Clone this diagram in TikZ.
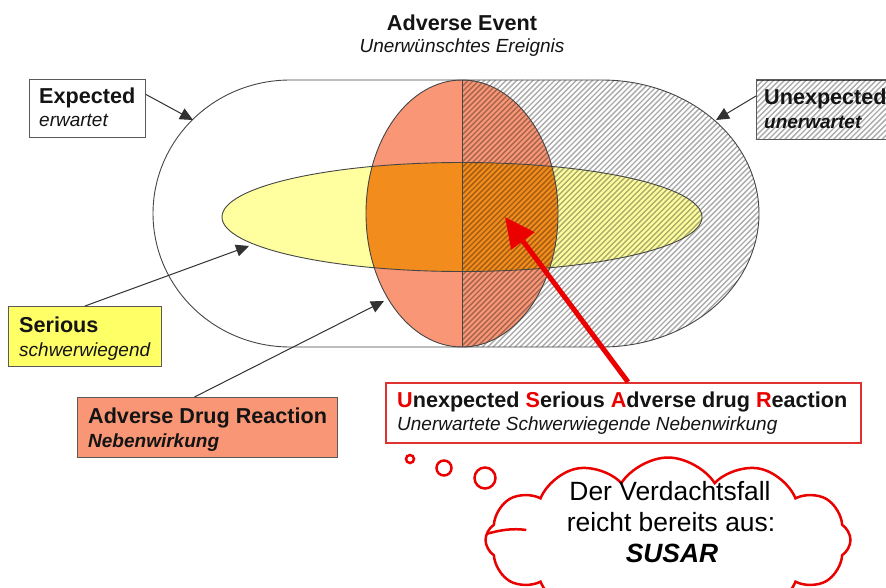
\documentclass[tikz,border=0pt]{standalone}
\usepackage{fontspec}
\setmainfont{Liberation Sans}
\usetikzlibrary{arrows.meta,shapes.symbols}

\definecolor{salmon}{RGB}{248,150,118}
\definecolor{orng}{RGB}{242,140,28}
\definecolor{ylw}{RGB}{255,255,160}
\definecolor{ylwbox}{RGB}{255,255,102}
\definecolor{outlc}{RGB}{70,70,70}
\definecolor{boxc}{RGB}{90,90,90}
\definecolor{connc}{RGB}{50,50,50}
\definecolor{cred}{RGB}{235,0,0}
\definecolor{susborder}{RGB}{225,50,50}
\definecolor{txt}{RGB}{20,20,20}

\newcommand\fBold{\fontsize{21.6}{24}\selectfont\bfseries}
\newcommand\fItal{\fontsize{19}{22}\selectfont\itshape}
\newcommand\fBI{\fontsize{19}{22}\selectfont\bfseries\itshape}
\newcommand\fCloud{\fontsize{26.4}{30}\selectfont}
\newcommand\outershape{(290,80) -- (602,80) -- plot[domain=-90:90,samples=91] ({602+157*cos(\x)},{213.5+133.5*sin(\x)}) -- (290,347) -- plot[domain=-90:90,samples=91] ({290-137*cos(\x)},{213.5-133.5*sin(\x)}) -- cycle}

\begin{document}
\begin{tikzpicture}[x=1pt,y=-1pt,
  outl/.style={draw=outlc, line width=0.9pt},
  hatchln/.style={draw=black, opacity=0.33, line width=1.4pt},
  box/.style={draw=boxc, line width=1pt, rectangle, inner sep=0pt, anchor=north west},
  lbl/.style={anchor=base west, inner sep=0pt, text=txt},
  conn/.style={draw=connc, line width=1pt, -{Triangle[length=13pt,width=12pt]}},
  bub/.style={circle, draw=cred, line width=2.5pt, inner sep=0pt, fill=white},
  inarc/.style={draw=cred, line width=2.5pt},
]
\clip (0,0) rectangle (886,588);
\fill[white] (0,0) rectangle (886,588);

% ---------- Venn shapes ----------
\fill[white] \outershape;
\fill[ylw] (462,217) ellipse [x radius=240, y radius=54.5];
\fill[salmon] (462,213.5) ellipse [x radius=96, y radius=133.5];
\begin{scope}
  \clip (462,217) ellipse [x radius=240, y radius=54.5];
  \fill[orng] (462,213.5) ellipse [x radius=96, y radius=133.5];
\end{scope}
\begin{scope}
  \clip \outershape;
  \clip (462,0) rectangle (900,400);
  \foreach \i in {100,105.4,...,800} \draw[hatchln] (\i,400) -- ++(330,-330);
\end{scope}
\draw[outl] \outershape;
\draw[outl] (462,217) ellipse [x radius=240, y radius=54.5];
\draw[outl] (462,213.5) ellipse [x radius=96, y radius=133.5];
\draw[outl] (462,80) -- (462,347);

% ---------- title ----------
\node[anchor=base, inner sep=0pt, text=txt, font=\fBold] (t1) at (462,31) {Adverse Event};
\node[anchor=base, inner sep=0pt, text=txt, font=\fItal] (t2) at (462,53) {Unerwünschtes Ereignis};

% ---------- Expected ----------
\node[box, fill=white, minimum width=116pt, minimum height=58pt] (expbox) at (29,79) {};
\node[lbl, font=\fBold] (exp1) at (39,104) {Expected};
\node[lbl, font=\fItal] (exp2) at (39,127) {erwartet};
\coordinate (expTip) at (193,120);
\draw[conn] ([yshift=14pt]expbox.east) -- (expTip);

% ---------- Unexpected ----------
\node[box, fill=white, minimum width=170pt, minimum height=59pt] (unexbox) at (756,80) {};
\begin{scope}
  \clip (unexbox.north west) rectangle (unexbox.south east);
  \foreach \i in {650,655.4,...,950} \draw[hatchln] (\i,150) -- ++(80,-80);
\end{scope}
\draw[draw=boxc, line width=1pt] (unexbox.north west) rectangle (unexbox.south east);
\node[lbl, font=\fBold] (unex1) at (764,105) {Unexpected};
\node[lbl, font=\fBI] (unex2) at (764,129) {unerwartet};
\coordinate (unexTip) at (716,120);
\draw[conn] ([yshift=14pt]unexbox.west) -- (unexTip);

% ---------- Serious ----------
\node[box, fill=ylwbox, minimum width=153pt, minimum height=60pt] (serbox) at (8,306) {};
\node[lbl, font=\fBold] (ser1) at (19,332) {Serious};
\node[lbl, font=\fItal] (ser2) at (19,356) {schwerwiegend};
\coordinate (serTip) at (249,246);
\draw[conn] (serbox.north) -- (serTip);

% ---------- Adverse Drug Reaction ----------
\node[box, fill=salmon, minimum width=260pt, minimum height=60pt] (adrbox) at (77,397) {};
\node[lbl, font=\fBold] (adr1) at (88,423) {Adverse Drug Reaction};
\node[lbl, font=\fBI] (adr2) at (88,447) {Nebenwirkung};
\coordinate (adrTip) at (384,301);
\draw[conn] ([xshift=-13pt]adrbox.north) -- (adrTip);

% ---------- SUSAR ----------
\node[box, draw=susborder, line width=2pt, fill=white, minimum width=475pt, minimum height=60pt] (susbox) at (385,382) {};
\node[lbl, font=\fBold] (sus1) at (397,407) {\textcolor{cred}{U}nexpected \textcolor{cred}{S}erious \textcolor{cred}{A}dverse drug \textcolor{cred}{R}eaction};
\node[lbl, font=\fItal] (sus2) at (397,430) {Unerwartete Schwerwiegende Nebenwirkung};
\coordinate (susTip) at (505,217);
\draw[draw=cred, line width=5pt, -{Triangle[length=30pt,width=28pt]}] ([xshift=4.5pt]susbox.north) -- (susTip);

% ---------- thought bubbles ----------
\node[bub, minimum size=8pt] (b1) at (410,459) {};
\node[bub, minimum size=15pt] (b2) at (444,468) {};
\node[bub, minimum size=21pt] (b3) at (485,478) {};
\node[cloud, draw=cred, line width=2.5pt, fill=white, cloud puffs=12, cloud puff arc=115, aspect=2.3,
      minimum width=365pt, minimum height=165pt, inner sep=0pt] (cloud) at (668,540) {};
\draw[inarc] (cloud.west) ++(2,-6) .. controls +(14,-4) and +(-14,-2) .. ++(40,-4);
\node[anchor=base, inner sep=0pt, font=\fCloud] (c1) at (670,500) {Der Verdachtsfall};
\node[anchor=base, inner sep=0pt, font=\fCloud] (c2) at (671,531) {reicht bereits aus:};
\node[anchor=base, inner sep=0pt, font=\fCloud\bfseries\itshape] (c3) at (672,562) {SUSAR};
\end{tikzpicture}
\end{document}
